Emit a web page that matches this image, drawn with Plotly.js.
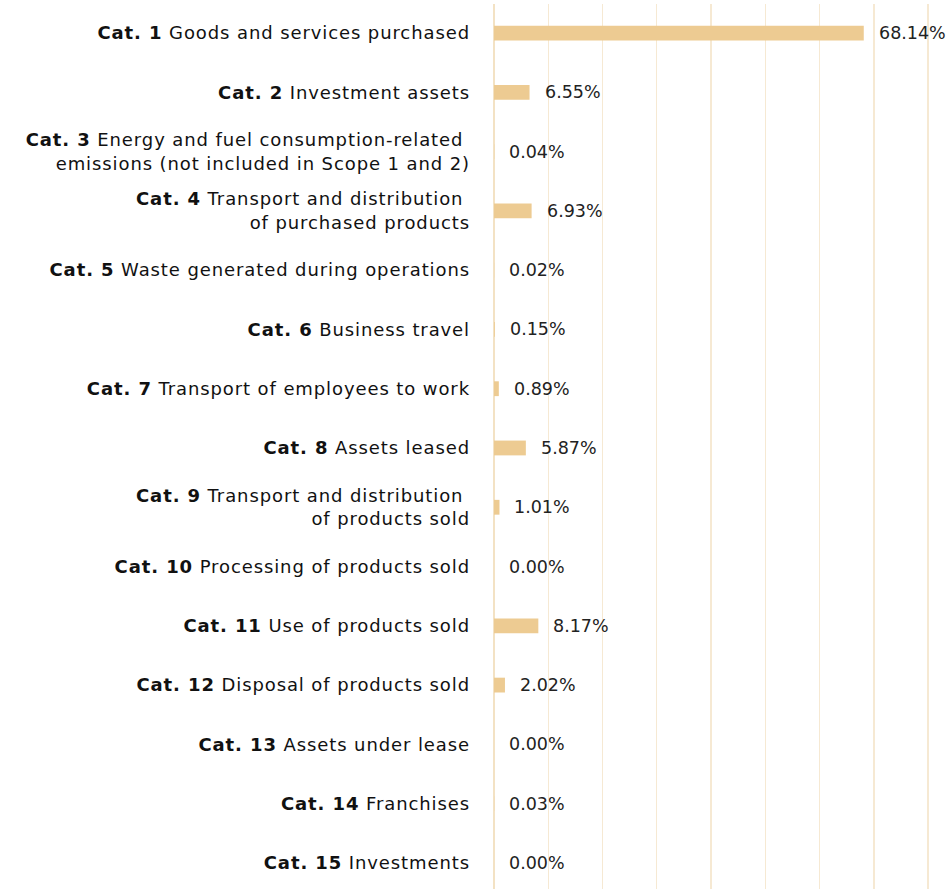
<!DOCTYPE html>
<html><head><meta charset="utf-8">
<script src="https://cdn.plot.ly/plotly-3.0.1.min.js"></script>
<style>html,body{margin:0;padding:0;background:#fff}#chart{width:952px;height:889px}
#chart .ytick text{letter-spacing:0.9px}</style>
</head><body><div id="chart"></div>
<script>
const categories = [
  "<b>Cat. 1</b> Goods and services purchased",
  "<b>Cat. 2</b> Investment assets",
  "<b>Cat. 3</b> Energy and fuel consumption-related <br>emissions (not included in Scope 1 and 2)",
  "<b>Cat. 4</b> Transport and distribution <br>of purchased products",
  "<b>Cat. 5</b> Waste generated during operations",
  "<b>Cat. 6</b> Business travel",
  "<b>Cat. 7</b> Transport of employees to work",
  "<b>Cat. 8</b> Assets leased",
  "<b>Cat. 9</b> Transport and distribution <br>of products sold",
  "<b>Cat. 10</b> Processing of products sold",
  "<b>Cat. 11</b> Use of products sold",
  "<b>Cat. 12</b> Disposal of products sold",
  "<b>Cat. 13</b> Assets under lease",
  "<b>Cat. 14</b> Franchises",
  "<b>Cat. 15</b> Investments"
];
const shares = [68.14, 6.55, 0.04, 6.93, 0.02, 0.15, 0.89, 5.87, 1.01, 0.00, 8.17, 2.02, 0.00, 0.03, 0.00];
const valueLabels = shares.map(v => v.toFixed(2) + "%");

const FONT = "'DejaVu Sans', sans-serif";
const trace = {
  type: "bar", orientation: "h",
  x: shares, y: categories,
  marker: {color: "#EDCB92"},
  hoverinfo: "skip"
};
const annotations = shares.map((v, i) => ({
  x: v, y: categories[i], xref: "x", yref: "y",
  text: valueLabels[i], showarrow: false,
  xanchor: "left", xshift: 13,
  font: {family: FONT, size: 17.5, color: "#222"}
}));
const layout = {
  width: 952, height: 889,
  margin: {l: 494, r: 0, t: 4, b: 0},
  paper_bgcolor: "#fff", plot_bgcolor: "#fff",
  bargap: 0.75,
  showlegend: false,
  xaxis: {
    range: [0, 84.4], dtick: 10, tick0: 0,
    showticklabels: false, showgrid: true, gridcolor: "#F6E9D3", gridwidth: 1.3,
    zeroline: true, zerolinecolor: "#F3E2C4", zerolinewidth: 1.3, ticks: ""
  },
  yaxis: {
    type: "category", range: [14.44, -0.49],
    showgrid: false, zeroline: false, ticks: "", ticklabelstandoff: 23,
    tickfont: {family: FONT, size: 18, color: "#111"}
  },
  annotations: annotations
};
Plotly.newPlot("chart", [trace], layout, {displayModeBar: false, staticPlot: true});
</script></body></html>
